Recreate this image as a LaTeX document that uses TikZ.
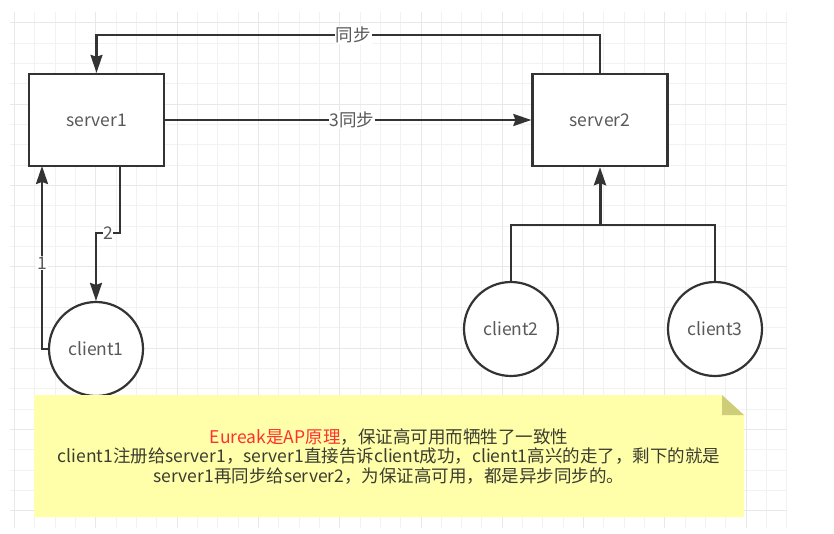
\documentclass[tikz,border=0pt]{standalone}
\usepackage{fontspec}
\setmainfont{Noto Sans CJK SC}
\usetikzlibrary{arrows.meta}
\definecolor{linec}{HTML}{333333}
\definecolor{labc}{HTML}{595959}
\definecolor{notetext}{HTML}{3C3C30}
\definecolor{notered}{HTML}{FF3030}
\definecolor{notefill}{HTML}{FFFFAA}
\definecolor{foldc}{HTML}{CDCD7A}
\definecolor{gridminor}{HTML}{F2F2F2}
\definecolor{gridmajor}{HTML}{E8E8E8}
\newcommand{\txtfont}{\fontsize{17.5}{19.5}\selectfont}
\tikzset{
  serverbox/.style={draw=linec, line width=2.3pt, fill=white, minimum width=135pt, minimum height=92pt, inner sep=0pt, font=\txtfont, text=labc},
  clientcirc/.style={circle, draw=linec, line width=2.2pt, fill=white, minimum size=94pt, inner sep=0pt, font=\txtfont, text=labc},
  conn/.style={draw=linec, line width=2.3pt},
  arr/.style={conn, -{Stealth[length=18pt, width=12pt, inset=2pt]}},
  lbl/.style={fill=white, inner sep=1pt, font=\txtfont, text=labc},
  gridline/.style={draw=gridminor, line width=0.8pt},
  gridmaj/.style={draw=gridmajor, line width=0.8pt}
}
\begin{document}
\begin{tikzpicture}[x=1pt,y=-1pt]
\useasboundingbox[fill=white] (0,0) rectangle (834,533);
% grid
\foreach \i in {0,...,38} {
  \pgfmathsetmacro{\gx}{14.3+20.33*\i}
  \draw[gridline] (\gx,12) -- (\gx,528);
}
\foreach \j in {0,...,24} {
  \pgfmathsetmacro{\gy}{22.8+20.33*\j}
  \draw[gridline] (10,\gy) -- (787,\gy);
}
\foreach \i in {0,...,9} {
  \pgfmathsetmacro{\gx}{14.3+81.32*\i}
  \draw[gridmaj] (\gx,12) -- (\gx,528);
}
\foreach \j in {0,...,6} {
  \pgfmathsetmacro{\gy}{22.8+81.32*\j}
  \draw[gridmaj] (10,\gy) -- (787,\gy);
}
% nodes
\node[serverbox] (s1) at (96.5,120) {server1};
\node[serverbox] (s2) at (600,120) {server2};
\node[clientcirc] (c1) at (96,349) {client1};
\node[clientcirc] (c2) at (511,329) {client2};
\node[clientcirc] (c3) at (715,329) {client3};
% note
\fill[notefill] (34,395) -- (722,395) -- (744,415) -- (744,517) -- (34,517) -- cycle;
\fill[foldc] (722,395) -- (744,415) -- (722,415) -- cycle;
\node[align=center, font=\txtfont, text=notetext, inner sep=0pt] (note) at (389,456.5)
  {{\color{notered}Eureak是AP原理}，保证高可用而牺牲了一致性\\
   client1注册给server1，server1直接告诉client成功，client1高兴的走了，剩下的就是\\
   server1再同步给server2，为保证高可用，都是异步同步的。};
% connectors
\coordinate (t2) at (600,35);
\coordinate (t1) at (96.5,35);
\draw[arr] (s2.north) -- (t2) -- node[lbl, pos=0.49]{同步} (t1) -- (s1.north);
\draw[arr] (s1.east) -- node[lbl, pos=0.51]{3同步} (s2.west);
\coordinate (a1) at (42,349);
\coordinate (a1t) at (42,166);
\draw[arr] (c1.west) -- (a1) -- node[lbl, pos=0.47]{1} (a1t);
\coordinate (b0) at (120,166);
\coordinate (b1) at (120,233);
\coordinate (b2) at (96,233);
\draw[arr] (b0) -- (b1) -- node[lbl, inner sep=0.5pt]{2} (b2) -- (c1.north);
\coordinate (j) at (600,225);
\draw[conn] (c2.north) |- (j);
\draw[conn] (c3.north) |- (j);
\draw[arr, line width=3pt] (j) -- (s2.south);
\end{tikzpicture}
\end{document}
